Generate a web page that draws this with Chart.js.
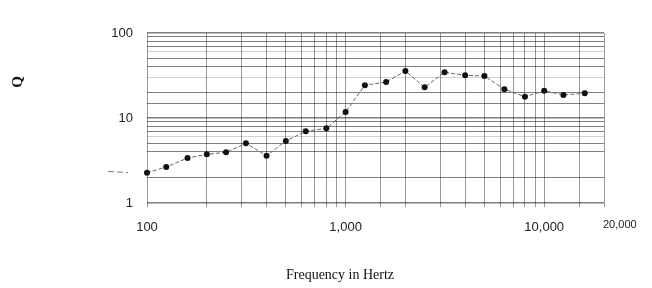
<!DOCTYPE html>
<html>
<head>
<meta charset="utf-8">
<script src="https://cdn.jsdelivr.net/npm/chart.js@4"></script>
<style>
  html, body { margin: 0; padding: 0; background: #fff; }
  #wrap { position: relative; width: 652px; height: 288px; }
</style>
</head>
<body>
<div id="wrap"><canvas id="chart" width="652" height="288"></canvas></div>
<script>
// Частоты (Гц) и значения Q
const frequencies = [100, 125, 160, 200, 250, 315, 400, 500, 630, 800, 1000, 1250,
                     1600, 2000, 2500, 3150, 4000, 5000, 6300, 8000, 10000, 12500, 16000];
const qValues = [2.27, 2.65, 3.38, 3.74, 3.95, 5.04, 3.6, 5.36, 6.97, 7.56, 11.8, 24.3,
                 26.5, 35.7, 23.0, 34.5, 31.8, 31.2, 21.8, 17.8, 20.9, 18.7, 19.5];
const xTickLabels = [100, 1000, 10000];
const yTickLabels = [1, 10, 100];
const extraXLabel = '20,000';
const xTitle = 'Frequency in Hertz';
const yTitle = 'Q';

const points = frequencies.map((f, i) => ({ x: f, y: qValues[i] }));

// Подписи осей и мелкие детали рисуем сами
const extrasPlugin = {
  id: 'extras',
  afterDraw(chart) {
    const ctx = chart.ctx;
    const area = chart.chartArea;
    ctx.save();
    // "20,000" справа
    ctx.fillStyle = '#222';
    ctx.font = '11px "Liberation Sans", Arial, sans-serif';
    ctx.textAlign = 'left';
    ctx.textBaseline = 'middle';
    ctx.fillText(extraXLabel, area.right - 1, 225);
    // подпись оси X
    ctx.font = '14px "Liberation Serif", "Times New Roman", serif';
    ctx.textAlign = 'center';
    ctx.fillStyle = '#111';
    ctx.fillText(xTitle, 340, 275);
    // подпись оси Y (повернутая)
    ctx.translate(18, 82);
    ctx.rotate(-Math.PI / 2);
    ctx.font = 'bold 15px "Liberation Serif", "Times New Roman", serif';
    ctx.fillText(yTitle, 0, 0);
    ctx.restore();
    // короткий штрих слева от первой точки
    ctx.save();
    ctx.strokeStyle = '#777';
    ctx.lineWidth = 1;
    ctx.setLineDash([6, 3]);
    ctx.beginPath();
    ctx.moveTo(108, 171.5);
    ctx.lineTo(128, 172.5);
    ctx.stroke();
    ctx.restore();
  }
};

function gridColor(ctx) {
  const v = ctx.tick ? ctx.tick.value : 0;
  if (Math.abs(v - 3) < 0.01) return 'rgba(0,0,0,0)';
  const m = v / Math.pow(10, Math.floor(Math.log10(v) + 1e-9));
  if (Math.abs(m - 3) < 0.01 || Math.abs(m - 6) < 0.01) return 'rgba(0,0,0,0.18)';
  return 'rgba(0,0,0,0.5)';
}

new Chart(document.getElementById('chart'), {
  type: 'line',
  data: {
    datasets: [{
      data: points,
      borderColor: '#666',
      borderWidth: 1,
      borderDash: [4, 2],
      pointRadius: 3,
      pointBackgroundColor: '#111',
      pointBorderColor: '#111',
      pointBorderWidth: 0,
      tension: 0,
      clip: false
    }]
  },
  options: {
    responsive: false,
    animation: false,
    layout: { padding: { top: 33, right: 48, left: 0, bottom: 0 } },
    plugins: {
      legend: { display: false },
      tooltip: { enabled: false }
    },
    scales: {
      x: {
        type: 'logarithmic',
        min: 100,
        max: 20000,
        border: { display: false },
        grid: {
          color: 'rgba(0,0,0,0.4)',
          lineWidth: 1,
          drawTicks: true,
          tickLength: 4,
          tickColor: 'rgba(0,0,0,0.4)'
        },
        ticks: {
          autoSkip: false,
          maxRotation: 0,
          padding: 13,
          color: '#222',
          font: { family: '"Liberation Sans", Arial, sans-serif', size: 13 },
          callback: (v) => xTickLabels.includes(v) ? v.toLocaleString('en-US') : ''
        },
        afterFit(scale) { scale.height = 85; }
      },
      y: {
        type: 'logarithmic',
        min: 1,
        max: 100,
        border: { display: false },
        grid: {
          color: gridColor,
          lineWidth: (ctx) => (ctx.tick && yTickLabels.includes(ctx.tick.value)) ? 1.5 : 1,
          drawTicks: false
        },
        ticks: {
          autoSkip: false,
          padding: 14,
          color: '#222',
          font: { family: '"Liberation Sans", Arial, sans-serif', size: 13 },
          callback: (v) => yTickLabels.includes(v) ? String(v) : ''
        },
        afterFit(scale) { scale.width = 147; }
      }
    }
  },
  plugins: [extrasPlugin]
});
</script>
</body>
</html>
